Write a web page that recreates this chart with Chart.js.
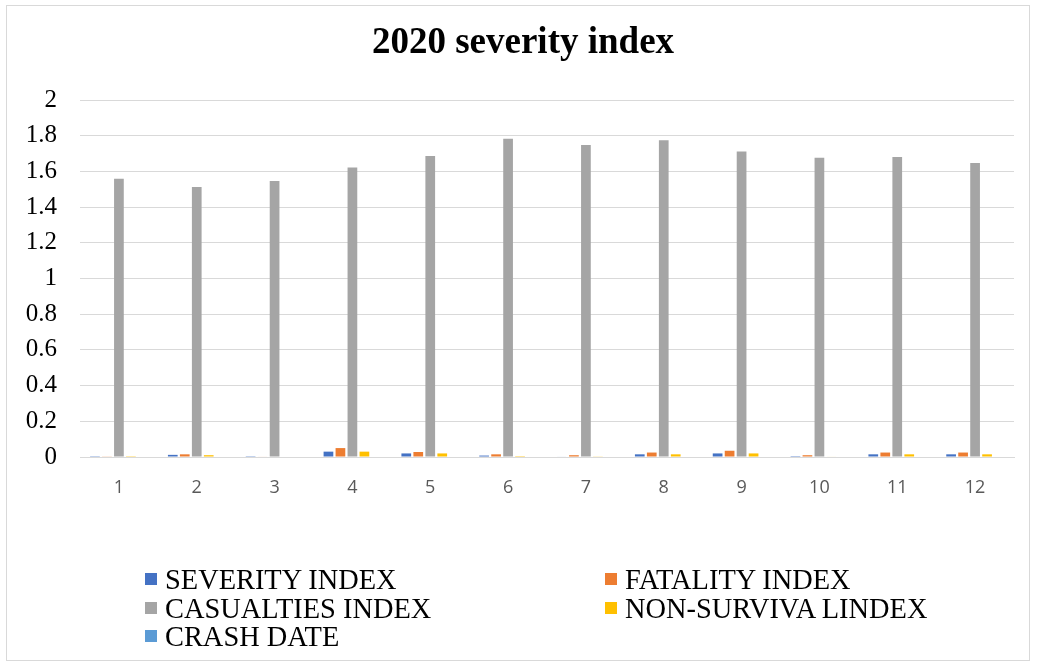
<!DOCTYPE html>
<html>
<head>
<meta charset="utf-8">
<script src="https://cdn.jsdelivr.net/npm/chart.js@4.4.1/dist/chart.umd.min.js"></script>
<style>
  html, body { margin: 0; padding: 0; background: #ffffff; }
  body { width: 1037px; height: 668px; position: relative; overflow: hidden; }
  #frame { position: absolute; left: 6px; top: 5px; width: 1024px; height: 656px; border: 1px solid #d9d9d9; box-sizing: border-box; }
  #wrap { position: absolute; left: 0; top: 0; width: 1037px; height: 515px; }
  #title { position: absolute; left: 0; top: 19px; width: 1046px; text-align: center; font-family: "Liberation Serif", "Times New Roman", serif; font-weight: bold; font-size: 37px; line-height: 44px; color: #000; white-space: nowrap; }
  #legend { position: absolute; left: 0; top: 0; width: 1037px; height: 668px; pointer-events: none; }
  .item { position: absolute; font-family: "Liberation Serif", "Times New Roman", serif; font-size: 28.4px; line-height: 28px; color: #000; white-space: nowrap; }
  .box { position: absolute; width: 12px; height: 12px; }
</style>
</head>
<body>
<div id="frame"></div>
<div id="wrap"><canvas id="c" width="1037" height="515"></canvas></div>
<div id="title"></div>
<div id="legend"></div>
<script>
const chartTitle = "2020 severity index";
const categories = ["1","2","3","4","5","6","7","8","9","10","11","12"];
const seriesNames = ["SEVERITY INDEX", "FATALITY INDEX", "CASUALTIES INDEX", "NON-SURVIVA LINDEX", "CRASH DATE"];
const seriesColors = ["#4472C4", "#ED7D31", "#A5A5A5", "#FFC000", "#5B9BD5"];
const severityIndex   = [0.001, 0.012, 0.001, 0.030, 0.020, 0.008, 0.003, 0.015, 0.020, 0.005, 0.015, 0.015];
const fatalityIndex   = [0.002, 0.015, 0.003, 0.050, 0.028, 0.015, 0.010, 0.025, 0.035, 0.010, 0.025, 0.025];
const casualtiesIndex = [1.559, 1.513, 1.546, 1.622, 1.686, 1.783, 1.748, 1.774, 1.712, 1.677, 1.681, 1.647];
const nonSurvivalIndex = [0.001, 0.010, 0.000, 0.030, 0.020, 0.005, 0.002, 0.015, 0.020, 0.003, 0.015, 0.015];
const crashDate       = [0, 0, 0, 0, 0, 0, 0, 0, 0, 0, 0, 0];
const yTicks = [0, 0.2, 0.4, 0.6, 0.8, 1, 1.2, 1.4, 1.6, 1.8, 2];

const seriesData = [severityIndex, fatalityIndex, casualtiesIndex, nonSurvivalIndex, crashDate];

document.getElementById('title').textContent = chartTitle;

const datasets = seriesNames.map((name, i) => ({
  label: name,
  data: seriesData[i],
  backgroundColor: seriesColors[i],
  borderWidth: 0,
  barPercentage: 0.81,
  categoryPercentage: 0.77
}));

new Chart(document.getElementById('c'), {
  type: 'bar',
  data: { labels: categories, datasets },
  options: {
    responsive: false,
    animation: false,
    devicePixelRatio: 1,
    layout: { padding: { left: 0, right: 23, top: 100, bottom: 0 } },
    plugins: {
      legend: { display: false },
      tooltip: { enabled: false },
      title: { display: false }
    },
    scales: {
      x: {
        grid: { display: false, drawTicks: false },
        border: { display: true, color: '#d9d9d9', width: 1 },
        ticks: { color: '#595959', font: { family: '"Open Sans", sans-serif', size: 18 }, padding: 20, maxRotation: 0 },
        afterFit: (axis) => { axis.height = 58; }
      },
      y: {
        min: 0, max: 2,
        afterBuildTicks: (axis) => { axis.ticks = yTicks.map(v => ({ value: v })); },
        grid: { color: '#d9d9d9', lineWidth: 1, drawTicks: false },
        border: { display: false },
        ticks: {
          color: '#000',
          font: { family: '"Liberation Serif", "Times New Roman", serif', size: 25 },
          padding: 23,
          callback: (v) => String(Math.round(v * 10) / 10)
        },
        afterFit: (axis) => { axis.width = 80; }
      }
    }
  }
});

// Legend (two columns, as in the reference)
const legendEl = document.getElementById('legend');
const colX = [145, 605];
const rowY = [566, 594.5, 623];
seriesNames.forEach((name, i) => {
  const col = i % 2, row = Math.floor(i / 2);
  const box = document.createElement('div');
  box.className = 'box';
  box.style.left = colX[col] + 'px';
  box.style.top = (rowY[row] + 7) + 'px';
  box.style.background = seriesColors[i];
  legendEl.appendChild(box);
  const t = document.createElement('div');
  t.className = 'item';
  t.style.left = (colX[col] + 20) + 'px';
  t.style.top = rowY[row] + 'px';
  t.textContent = name;
  legendEl.appendChild(t);
});
</script>
</body>
</html>
